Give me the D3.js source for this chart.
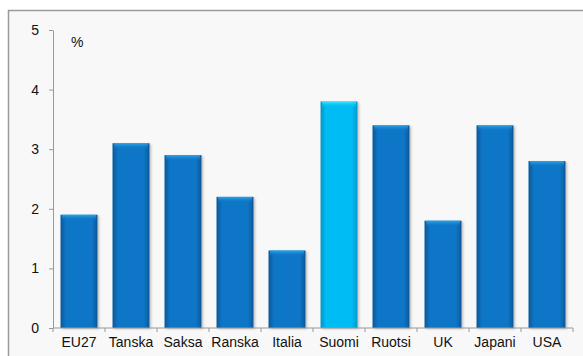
<!DOCTYPE html>
<html>
<head>
<meta charset="utf-8">
<script src="https://cdn.jsdelivr.net/npm/d3@7"></script>
<style>
  body { margin: 0; background: #fff; }
  svg { display: block; }
  svg text { font-family: "Liberation Sans", Arial, sans-serif; }
</style>
</head>
<body>
<div id="chart"></div>
<script>
// Chart data
const countries = ['EU27', 'Tanska', 'Saksa', 'Ranska', 'Italia', 'Suomi', 'Ruotsi', 'UK', 'Japani', 'USA'];
const values = [1.9, 3.1, 2.9, 2.2, 1.3, 3.8, 3.4, 1.8, 3.4, 2.8];
const highlighted = ['Suomi'];
const yTicks = [0, 1, 2, 3, 4, 5];
const unitLabel = '%';

const width = 583;
const height = 356;
const margin = { top: 30, right: 10, bottom: 28, left: 53 };

const svg = d3.select('#chart')
  .append('svg')
  .attr('width', width)
  .attr('height', height);

// Plot frame (right and bottom edges run off the page)
svg.append('rect')
  .attr('x', 8.5)
  .attr('y', 10.5)
  .attr('width', 620)
  .attr('height', 400)
  .style('fill', '#f8f8f8')
  .style('stroke', '#9a9a9a')
  .style('stroke-width', 1.5);

const x = d3.scaleBand()
  .domain(countries)
  .range([margin.left, 573])
  .paddingInner(0.29)
  .paddingOuter(0.145);

const y = d3.scaleLinear()
  .domain([0, 5])
  .range([328, margin.top]);

// Gradients: dark edges, lighter middle
const defs = svg.append('defs');

function barGradient(id, edge, mid) {
  const g = defs.append('linearGradient')
    .attr('id', id)
    .attr('x1', '0').attr('x2', '1')
    .attr('y1', '0').attr('y2', '0');
  g.append('stop').attr('offset', '0%').attr('stop-color', edge);
  g.append('stop').attr('offset', '15%').attr('stop-color', mid);
  g.append('stop').attr('offset', '85%').attr('stop-color', mid);
  g.append('stop').attr('offset', '100%').attr('stop-color', edge);
}
barGradient('gradBlue', '#07579a', '#0a76c6');
barGradient('gradCyan', '#0496c8', '#00bcf4');

function topGradient(id, light, base) {
  const g = defs.append('linearGradient')
    .attr('id', id)
    .attr('x1', '0').attr('x2', '0')
    .attr('y1', '0').attr('y2', '1');
  g.append('stop').attr('offset', '0%').attr('stop-color', light);
  g.append('stop').attr('offset', '100%').attr('stop-color', base).attr('stop-opacity', 0);
}
topGradient('topBlue', '#2fa6ea', '#0a76c6');
topGradient('topCyan', '#3ee6ff', '#00bcf4');

const filter = defs.append('filter').attr('id', 'shadow')
  .attr('x', '-20%').attr('y', '-10%').attr('width', '150%').attr('height', '130%');
filter.append('feDropShadow')
  .attr('dx', 1.5).attr('dy', 1)
  .attr('stdDeviation', 1.2)
  .attr('flood-color', '#000')
  .attr('flood-opacity', 0.25);

const data = countries.map((c, i) => ({ country: c, value: values[i] }));

const bars = svg.append('g')
  .selectAll('g')
  .data(data)
  .enter().append('g');

bars.append('rect')
  .attr('x', d => x(d.country))
  .attr('y', d => y(d.value))
  .attr('width', x.bandwidth())
  .attr('height', d => y(0) - y(d.value))
  .attr('filter', 'url(#shadow)')
  .style('fill', d => (highlighted.includes(d.country) ? 'url(#gradCyan)' : 'url(#gradBlue)'));

// Light bevel along the top of each bar
bars.append('rect')
  .attr('x', d => x(d.country) + 1.5)
  .attr('y', d => y(d.value))
  .attr('width', x.bandwidth() - 3)
  .attr('height', 6)
  .style('fill', d => (highlighted.includes(d.country) ? 'url(#topCyan)' : 'url(#topBlue)'));

// Y axis
const yAxis = svg.append('g')
  .attr('transform', `translate(${margin.left},0)`)
  .call(d3.axisLeft(y).tickValues(yTicks).tickFormat(d3.format('d'))
    .tickSize(4).tickPadding(10).tickSizeOuter(0));

yAxis.attr('font-family', null).attr('font-size', null);
yAxis.select('.domain').style('stroke', '#999');
yAxis.selectAll('.tick line').style('stroke', '#999');
yAxis.selectAll('.tick text')
  .style('font-size', '14px')
  .style('fill', '#111');

// X axis with ticks at band boundaries
const xAxisG = svg.append('g')
  .attr('transform', `translate(0,${y(0)})`);

xAxisG.append('line')
  .attr('x1', margin.left)
  .attr('x2', 573)
  .style('stroke', '#999');

const step = x.step();
const boundaries = countries.map(c => x(c) - x.paddingInner() * step / 2).concat([573]);
xAxisG.selectAll('line.tick')
  .data(boundaries)
  .enter().append('line')
  .attr('class', 'tick')
  .attr('x1', d => d).attr('x2', d => d)
  .attr('y1', 0).attr('y2', 4)
  .style('stroke', '#999');

xAxisG.selectAll('text')
  .data(countries)
  .enter().append('text')
  .attr('x', d => x(d) + x.bandwidth() / 2)
  .attr('y', 19)
  .attr('text-anchor', 'middle')
  .style('font-size', '14px')
  .style('fill', '#111')
  .text(d => d);

// Unit label
svg.append('text')
  .attr('x', 71)
  .attr('y', 47)
  .style('font-size', '14px')
  .style('fill', '#111')
  .text(unitLabel);
</script>
</body>
</html>
